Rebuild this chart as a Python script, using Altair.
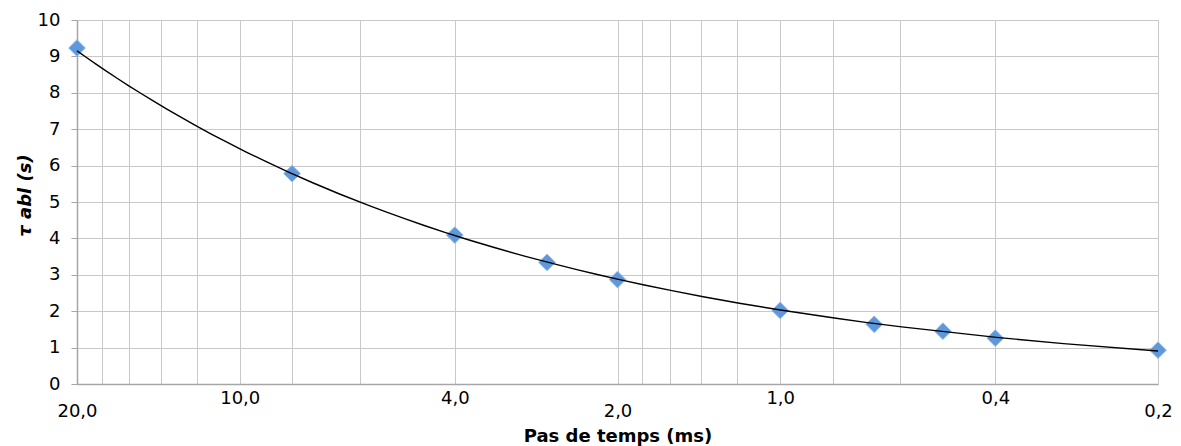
import altair as alt
import pandas as pd

# Data
pas_de_temps = [20, 8, 4, 2.7, 2, 1, 0.67, 0.5, 0.4, 0.2]
tau_abl = [9.23, 5.78, 4.09, 3.34, 2.87, 2.02, 1.64, 1.45, 1.26, 0.93]

grid_ticks = [20, 18, 16, 14, 12, 10, 8, 6, 4, 2, 1.8, 1.6, 1.4, 1.2, 1, 0.8, 0.6, 0.4, 0.2]
shown_labels = [20, 10, 4, 2, 1, 0.4, 0.2]
lower_labels = [20, 2, 0.2]
y_ticks = [0, 1, 2, 3, 4, 5, 6, 7, 8, 9, 10]

df = pd.DataFrame({"x": pas_de_temps, "y": tau_abl})

FONT = "DejaVu Sans"

shown_js = "[" + ",".join(str(v) for v in shown_labels) + "]"
lower_js = "[" + ",".join(str(v) for v in lower_labels) + "]"
lbl = "replace(format(datum.value, '.1f'), '.', ',')"
label_expr = (
    f"indexof({lower_js}, datum.value) >= 0 ? ['', {lbl}] : "
    f"(indexof({shown_js}, datum.value) >= 0 ? {lbl} : '')"
)

x_enc = alt.X(
    "x:Q",
    scale=alt.Scale(type="log", domain=[0.2, 20], reverse=True, nice=False),
    axis=alt.Axis(
        values=grid_ticks,
        labelExpr=label_expr,
        labelPadding=5,
        labelLineHeight=13,
        labelBaseline="top",
        labelFont=FONT,
        labelFontSize=18,
        labelColor="#000000",
        labelOverlap=False,
        labelFlush=False,
        ticks=False,
        grid=True,
        gridColor="#c8c8c8",
        gridWidth=1,
        domainColor="#a6a6a6",
        domainWidth=1.5,
        title="Pas de temps (ms)",
        titleFont=FONT,
        titleFontSize=18,
        titleFontWeight="bold",
        titleColor="#000000",
        titleBaseline="alphabetic",
        titleY=57.5,
    ),
)

y_enc = alt.Y(
    "y:Q",
    scale=alt.Scale(domain=[0, 10], nice=False),
    axis=alt.Axis(
        values=y_ticks,
        labelExpr="datum.value + ''",
        labelFont=FONT,
        labelFontSize=18,
        labelColor="#000000",
        labelPadding=11,
        labelOverlap=False,
        labelSeparation=0,
        tickSize=6,
        tickColor="#a6a6a6",
        tickWidth=1,
        grid=True,
        gridColor="#c8c8c8",
        gridWidth=1,
        domainColor="#a6a6a6",
        domainWidth=1.5,
        title="τ abl (s)",
        titleFont=FONT,
        titleFontSize=18,
        titleFontWeight="bold",
        titleFontStyle="italic",
        titleColor="#000000",
        titleAngle=-90,
        titleBaseline="alphabetic",
        titleAlign="center",
        titleX=-47,
        titleY=175,
    ),
)

base = alt.Chart(df).encode(x=x_enc, y=y_enc)

points = base.mark_point(
    shape="diamond", filled=True, size=280, color="#5f98da",
    stroke="#94bdec", strokeWidth=1, opacity=1
)

trend = base.transform_regression("x", "y", method="pow").mark_line(
    color="#000000", strokeWidth=1.4
)

chart = (
    alt.layer(points, trend)
    .properties(
        width=1081,
        height=364,
        autosize=alt.AutoSizeParams(type="none"),
        padding={"left": 69, "top": 12, "right": 15, "bottom": 62},
    )
    .configure_view(stroke=None)
    .configure_axisY(labelOverlap=False)
)

chart.save("out.html", embed_options={"renderer": "svg", "actions": False})
